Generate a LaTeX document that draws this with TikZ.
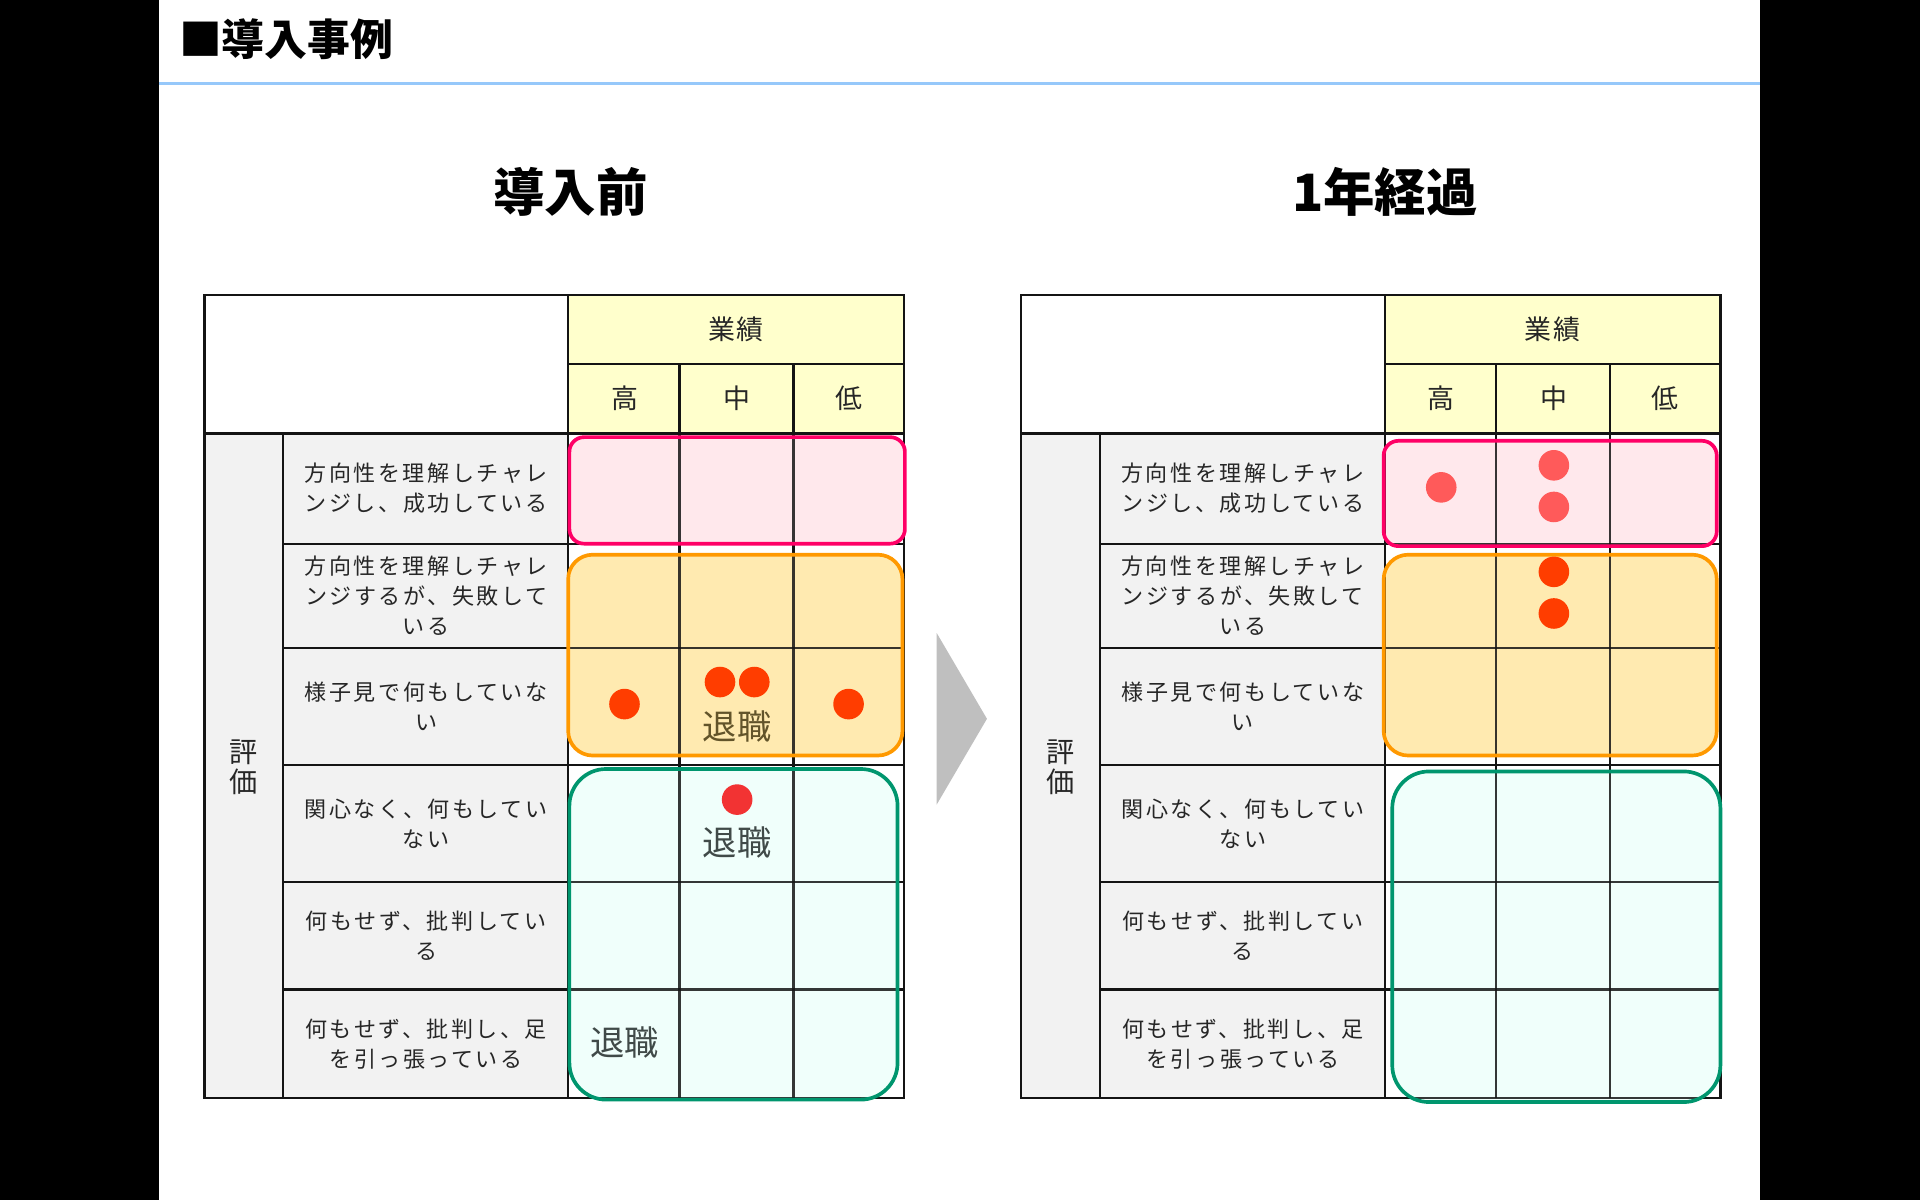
\documentclass[tikz,border=0pt]{standalone}
\usepackage{fontspec}
\setmainfont{Noto Sans CJK JP}
\newfontfamily\lblfam[LetterSpace=11.5]{Noto Sans CJK JP}
\newfontfamily\hdrfam[LetterSpace=6]{Noto Sans CJK JP}
\definecolor{hdryellow}{HTML}{FFFFCC}
\definecolor{cellgray}{HTML}{F2F2F2}
\definecolor{gridblack}{HTML}{141414}
\definecolor{pinkline}{HTML}{FF0066}
\definecolor{pinkfill}{HTML}{FFE8EC}
\definecolor{orangeline}{HTML}{FF9900}
\definecolor{orangefill}{HTML}{FFEAB0}
\definecolor{greenline}{HTML}{00966E}
\definecolor{greenfill}{HTML}{F0FFFB}
\definecolor{dotorange}{HTML}{FF3D00}
\definecolor{dotred}{HTML}{F23333}
\definecolor{dotpink}{HTML}{FF5A5A}
\definecolor{arrowgray}{HTML}{BFBFBF}
\definecolor{rulerblue}{HTML}{96C8FA}
\definecolor{txtdark}{HTML}{262626}
\definecolor{taibrown}{HTML}{62542A}
\definecolor{taislate}{HTML}{404A48}
\newcommand\tblbase[1]{%
  \fill[white] (167,241) rectangle (464,354);
  \fill[hdryellow] (464,241) rectangle (738,354);
  \fill[cellgray] (167,354) rectangle (464,897);
  \fill[white] (464,354) rectangle (738,897);
  \node[hdrtxt] (#1gyo) at (601,269) {業績};
  \node[hdrtxt] (#1hi) at (510,325) {高};
  \node[hdrtxt] (#1mid) at (602,325) {中};
  \node[hdrtxt] (#1lo) at (693,325) {低};
  \node[vtxt] (#1hyo) at (199,626.5) {評\\価};
  \node[lbl] (#1l1) at (348,399) {方向性を理解しチャレ\\ンジし、成功している};
  \node[lbl] (#1l2) at (348,486.5) {方向性を理解しチャレ\\ンジするが、失敗して\\いる};
  \node[lbl] (#1l3) at (348,577) {様子見で何もしていな\\い};
  \node[lbl] (#1l4) at (348,672.5) {関心なく、何もしてい\\ない};
  \node[lbl] (#1l5) at (348,764) {何もせず、批判してい\\る};
  \node[lbl] (#1l6) at (348,852.5) {何もせず、批判し、足\\を引っ張っている};
}
\newcommand\tblgrid{%
  \draw (167,241) rectangle (738,897);
  \draw (464,241) -- (464,897);
  \draw (231,354) -- (231,897);
  \draw (555,297) -- (555,897);
  \draw (648,297) -- (648,897);
  \draw (464,297) -- (738,297);
  \draw (167,354) -- (738,354);
  \foreach \yy in {444,529,625,720,808} {\draw (231,\yy) -- (738,\yy);}
}
\begin{document}
\begin{tikzpicture}[x=1pt,y=-1pt,
  hdrtxt/.style={font=\hdrfam\fontsize{22}{26}\selectfont, text=txtdark, inner sep=0pt},
  vtxt/.style={font=\fontsize{23}{25}\selectfont, text=txtdark, align=center, inner sep=0pt},
  lbl/.style={font=\lblfam\fontsize{18}{24.5}\selectfont, text=txtdark, align=center, inner sep=0pt},
  gridpen/.style={line width=1.8pt, draw=gridblack},
  gridtint/.style={line width=1.8pt, draw=gridblack, draw opacity=0.85},
  tai/.style={font=\fontsize{28}{30}\selectfont, inner sep=0pt},
  dot/.style={circle, minimum size=25pt, inner sep=0pt},
  ttl/.style={font=\bfseries\fontsize{42}{46}\selectfont, text=black, inner sep=0pt}]
\useasboundingbox (0,0) rectangle (1568,980);
\fill[white] (0,0) rectangle (1568,980);
\fill[black] (0,0) rectangle (130,980);
\fill[black] (1437,0) rectangle (1568,980);
% header
\node[font=\bfseries\fontsize{35}{38}\selectfont, anchor=west, inner sep=0pt] (head) at (146,32) {■導入事例};
\draw[rulerblue, line width=2.2pt] (130,68) -- (1437,68);
\node[ttl] (tbefore) at (466,157) {導入前};
\node[ttl] (tafter) at (1131,157) {1年経過};
% bases
\tblbase{a}
\begin{scope}[xshift=667pt]\tblbase{b}\end{scope}
\begin{scope}[gridpen]\tblgrid\end{scope}
\begin{scope}[xshift=667pt, gridpen]\tblgrid\end{scope}
% overlay fills
\fill[pinkfill, rounded corners=12pt] (465,357) rectangle (739,444);
\fill[orangefill, rounded corners=20pt] (464,453) rectangle (737,617);
\fill[greenfill, rounded corners=30pt] (465,628) rectangle (733,898);
\fill[pinkfill, rounded corners=12pt] (1130,360) rectangle (1402,446);
\fill[orangefill, rounded corners=20pt] (1130,453) rectangle (1402,617);
\fill[greenfill, rounded corners=30pt] (1137,630) rectangle (1405,900);
% tinted grid over overlays
\begin{scope}[gridtint]\tblgrid\end{scope}
\begin{scope}[xshift=667pt, gridtint]\tblgrid\end{scope}
% overlay strokes
\draw[pinkline, line width=3pt, rounded corners=12pt] (465,357) rectangle (739,444);
\draw[orangeline, line width=3pt, rounded corners=20pt] (464,453) rectangle (737,617);
\draw[greenline, line width=3pt, rounded corners=30pt] (465,628) rectangle (733,898);
\draw[pinkline, line width=3pt, rounded corners=12pt] (1130,360) rectangle (1402,446);
\draw[orangeline, line width=3pt, rounded corners=20pt] (1130,453) rectangle (1402,617);
\draw[greenline, line width=3pt, rounded corners=30pt] (1137,630) rectangle (1405,900);
% left marks
\node[dot, fill=dotorange] (d1) at (510,575) {};
\node[dot, fill=dotorange] (d2) at (588,557) {};
\node[dot, fill=dotorange] (d3) at (616,557) {};
\node[dot, fill=dotorange] (d4) at (693,575) {};
\node[tai, text=taibrown] (t1) at (602,593) {退職};
\node[dot, fill=dotred] (d5) at (602,653) {};
\node[tai, text=taislate] (t2) at (602,688) {退職};
\node[tai, text=taislate] (t3) at (510,851) {退職};
% right marks
\node[dot, fill=dotpink] (e1) at (1177,398) {};
\node[dot, fill=dotpink] (e2) at (1269,380) {};
\node[dot, fill=dotpink] (e3) at (1269,414) {};
\node[dot, fill=dotorange] (e4) at (1269,467) {};
\node[dot, fill=dotorange] (e5) at (1269,501) {};
% arrow
\fill[arrowgray] (765,517) -- (765,657) -- (806,587) -- cycle;
\end{tikzpicture}
\end{document}
